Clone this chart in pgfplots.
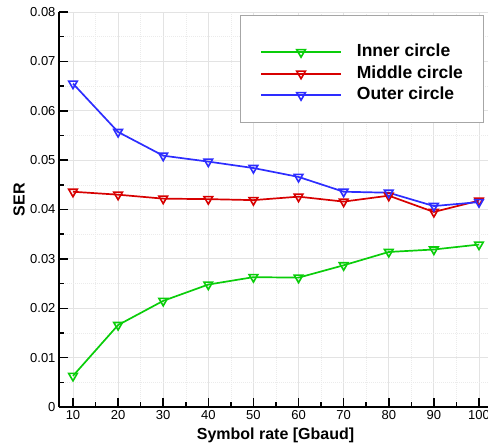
\documentclass[border=0pt]{standalone}
\usepackage{fontspec}
\setmainfont{Liberation Sans}
\usepackage{pgfplots}
\pgfplotsset{compat=1.18}

\definecolor{cgreen}{RGB}{10,205,10}
\definecolor{cred}{RGB}{215,0,0}
\definecolor{cblue}{RGB}{45,45,255}

\begin{document}
\begin{tikzpicture}
\begin{axis}[
  scale only axis, width=429pt, height=395pt,
  xmin=6.9, xmax=102, ymin=0, ymax=0.08,
  axis x line*=bottom, axis y line*=left,
  axis line style={-, line width=2pt},
  xtick={10,20,30,40,50,60,70,80,90,100},
  ytick={0,0.01,0.02,0.03,0.04,0.05,0.06,0.07,0.08},
  scaled y ticks=false,
  minor x tick num=1, minor y tick num=1,
  tick align=inside, major tick length=9pt, minor tick length=5pt,
  every tick/.style={black, line width=1.5pt},
  grid=both,
  major grid style={gray!22, line width=0.8pt},
  minor grid style={gray!16, line width=0.5pt, dash pattern=on 1pt off 1pt},
  /pgf/number format/assume math mode=true,
  yticklabel style={/pgf/number format/fixed, /pgf/number format/precision=2},
  ticklabel style={font=\fontsize{13}{15}\selectfont},
  xlabel={Symbol rate [Gbaud]}, ylabel={SER},
  label style={font=\bfseries\fontsize{16}{18}\selectfont},
  xlabel style={at={(axis description cs:0.5047,0)}, anchor=center, yshift=-28pt},
  ylabel style={at={(axis description cs:-0.0932,0.525)}, anchor=center, rotate=0},
  legend cell align=left,
  legend style={at={(0.4685,0.9203)}, anchor=north west, draw=none, fill=none,
    inner sep=0pt, row sep=4.5pt, column sep=15pt,
    font=\bfseries\fontsize{17.5}{20}\selectfont,
    nodes={inner sep=0pt, text height=13pt, text depth=4pt}},
  legend image code/.code={\draw[mark repeat=2, mark phase=2]
    plot coordinates {(0pt,0pt) (40pt,0pt) (80pt,0pt)};},
  every axis plot/.append style={line width=1.7pt, mark=triangle, mark size=5pt,
    mark options={rotate=180, fill=white, solid, line width=1.6pt}},
]
\draw[gray!70, line width=0.9pt, fill=white]
  (rel axis cs:0.4219,0.7215) rectangle (rel axis cs:0.9883,0.9924);

\addplot[cgreen] coordinates {
  (10,0.0063) (20,0.0166) (30,0.0215) (40,0.0248) (50,0.0263)
  (60,0.0262) (70,0.0287) (80,0.0314) (90,0.0319) (100,0.0329)};
\addplot[cred] coordinates {
  (10,0.0436) (20,0.0430) (30,0.0422) (40,0.0421) (50,0.0419)
  (60,0.0426) (70,0.0416) (80,0.0428) (90,0.0395) (100,0.0418)};
\addplot[cblue] coordinates {
  (10,0.0655) (20,0.0557) (30,0.0509) (40,0.0497) (50,0.0484)
  (60,0.0466) (70,0.0436) (80,0.0434) (90,0.0407) (100,0.0415)};
\legend{Inner circle, Middle circle, Outer circle}
\end{axis}
\pgfresetboundingbox
\path[use as bounding box] (-59pt,-38pt) rectangle (429pt,407pt);
\end{tikzpicture}
\end{document}
